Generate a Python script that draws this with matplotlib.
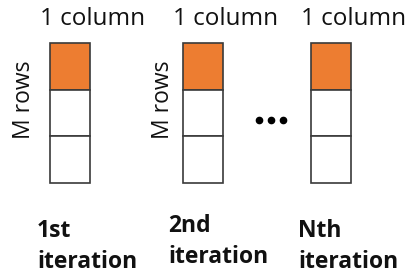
import matplotlib
matplotlib.use("Agg")
import matplotlib.pyplot as plt
from matplotlib.patches import Rectangle

# Data
column_labels = ["1 column", "1 column", "1 column"]
iteration_ordinals = ["1st", "2nd", "Nth"]
iteration_word = "iteration"
row_labels = ["M rows", "M rows", None]
cells_per_column = 3
highlight_cell = 0

# Layout
col_x = [50, 183, 311]
col_w = 40
top_y = 43
cell_h = 46.7
iter_x = [37, 168, 298]
iter_base = [237, 232, 237]
row_label_x = [24, 163]
row_label_y = [100, 100]

fig = plt.figure(figsize=(4.11, 2.80), dpi=100)
ax = fig.add_axes([0, 0, 1, 1])
ax.set_xlim(0, 411)
ax.set_ylim(280, 0)
ax.axis("off")

font = "Open Sans"
orange = "#ED7D31"
edge = "#3a3a3a"
txt = "#111111"

for i, x in enumerate(col_x):
    for c in range(cells_per_column):
        y = top_y + c * cell_h
        fc = orange if c == highlight_cell else "white"
        ax.add_patch(Rectangle((x, y), col_w, cell_h, facecolor=fc,
                               edgecolor=edge, linewidth=1.2))
    ax.text(x - 10, 25, column_labels[i], fontsize=17.5, family=font,
            ha="left", va="baseline", color=txt)
    if row_labels[i]:
        ax.text(row_label_x[i], row_label_y[i], row_labels[i], fontsize=16.5,
                family=font, rotation=90, ha="center", va="center", color=txt)
    ax.text(iter_x[i], iter_base[i], iteration_ordinals[i], fontsize=16.5,
            family=font, fontweight="bold", ha="left", va="baseline", color=txt)
    ax.text(iter_x[i], iter_base[i] + 31, iteration_word, fontsize=16.5,
            family=font, fontweight="bold", ha="left", va="baseline", color=txt)

# ellipsis dots
for dx in [259, 271, 283]:
    ax.plot(dx, 120, marker="o", markersize=4.5, color="black")

fig.savefig("out.png", dpi=100)
